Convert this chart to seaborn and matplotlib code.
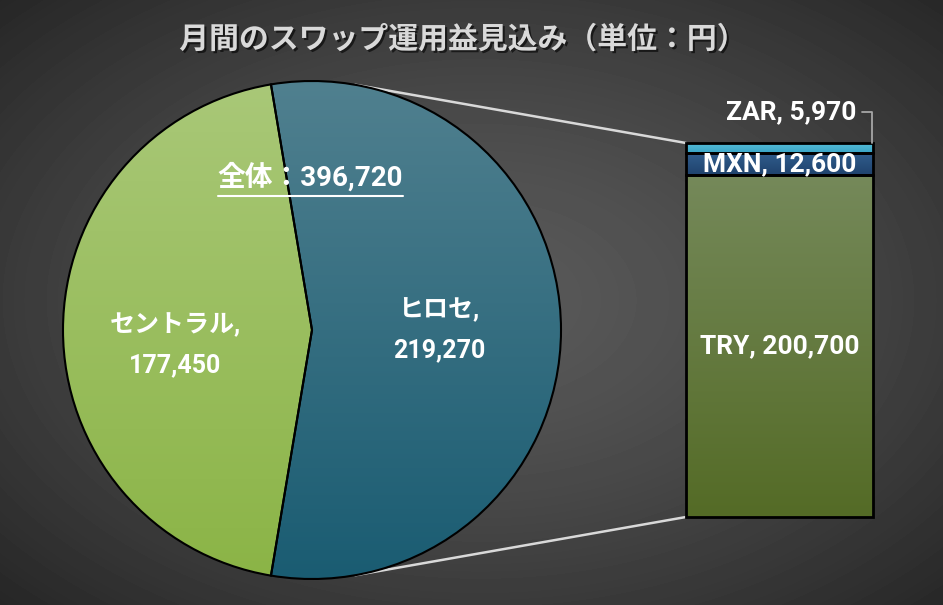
import numpy as np
import matplotlib.pyplot as plt
import matplotlib.patheffects as pe
import seaborn as sns
from matplotlib.colors import LinearSegmentedColormap
from matplotlib.patches import ConnectionPatch

title = '月間のスワップ運用益見込み（単位：円）'
total_label = '全体'
pie_labels = ['ヒロセ', 'セントラル']
pie_values = [219270, 177450]
bar_labels = ['TRY', 'MXN', 'ZAR']
bar_values = [200700, 12600, 5970]

sns.set_theme(style='white')
plt.rcParams['font.family'] = ['Roboto', 'Noto Sans CJK JP', 'DejaVu Sans']
plt.rcParams['font.weight'] = 'bold'

W, H = 943, 605
fig = plt.figure(figsize=(W / 100, H / 100), dpi=100)

# dark radial background
bg = fig.add_axes([0, 0, 1, 1], zorder=0)
yy, xx = np.mgrid[0:H, 0:W]
r = np.hypot((xx - 480) / W, (yy - 300) / H)
r = r / r.max()
bg.imshow(0.35 - 0.2 * r ** 1.4, cmap='gray', vmin=0, vmax=1,
          extent=(0, 1, 0, 1), aspect='auto')
bg.set_axis_off()

def gradient(ax, patch, top, bottom, extent):
    cmap = LinearSegmentedColormap.from_list('g', [bottom, top])
    im = ax.imshow(np.linspace(0, 1, 256).reshape(-1, 1), cmap=cmap, origin='lower',
                   extent=extent, aspect='auto', zorder=1)
    im.set_clip_path(patch)
    patch.set_facecolor('none')
    patch.set_zorder(2)
    patch.set_clip_on(False)

# pie
cx, cy, R = 312, 330, 249
pax = fig.add_axes([(cx - R) / W, 1 - (cy + R) / H, 2 * R / W, 2 * R / H], zorder=1)
frac = pie_values[0] / sum(pie_values)
wedges, _ = pax.pie(pie_values, startangle=-frac * 180, counterclock=True,
                    wedgeprops=dict(edgecolor='black', linewidth=1.5))
pie_grads = [('#50808f', '#1a5c72'), ('#a9c878', '#8bb446')]
for w, (top, bot) in zip(wedges, pie_grads):
    gradient(pax, w, top, bot, (-1, 1, -1, 1))
pax.set_xlim(-1, 1)
pax.set_ylim(-1, 1)
pax.set_aspect('equal')
pax.set_axis_off()

pie_pos = [(0.51, 0.0), (-0.55, -0.06)]
for lab, v, (x, y) in zip(pie_labels, pie_values, pie_pos):
    pax.text(x, y, f'{lab},\n{v:,}', ha='center', va='center', fontsize=18,
             color='white', fontweight='bold', linespacing=1.85, zorder=5)

tot = pax.text(-0.006, 0.614, f'{total_label}：{sum(pie_values):,}', ha='center',
               va='center', fontsize=20, color='white', fontweight='bold', zorder=5)

# bar of pie
bx0, bx1, by0, by1 = 686, 873, 143, 517
bax = fig.add_axes([bx0 / W, 1 - by1 / H, (bx1 - bx0) / W, (by1 - by0) / H], zorder=1)
bottoms = np.concatenate([[0], np.cumsum(bar_values)[:-1]])
bar_grads = [('#75895a', '#546b26'), ('#305d8c', '#1f426d'), ('#56bcd8', '#3aa6c6')]
for lab, v, b, (top, bot) in zip(bar_labels, bar_values, bottoms, bar_grads):
    sns.barplot(x=['s'], y=[v], bottom=b, width=1, color=bot, saturation=1,
                edgecolor='black', linewidth=2, errorbar=None, ax=bax)
    patch = bax.patches[-1]
    gradient(bax, patch, top, bot, (-0.5, 0.5, b, b + v))
bax.set_xlim(-0.5, 0.5)
bax.set_ylim(0, sum(bar_values))
bax.set_axis_off()

for lab, v, b in zip(bar_labels[:2], bar_values[:2], bottoms[:2]):
    bax.text(0, b + v / 2, f'{lab}, {v:,}', ha='center', va='center', fontsize=19,
             color='white', fontweight='bold', zorder=5)
bax.text(0.909, 1.083, f'{bar_labels[2]}, {bar_values[2]:,}', transform=bax.transAxes,
         ha='right', va='center', fontsize=19, color='white', fontweight='bold')
bax.plot([0.94, 0.995, 0.995], [1.083, 1.083, 1.0], transform=bax.transAxes,
         color='#a6a6a6', lw=1.3, clip_on=False)

fig.text(0.491, 1 - 40 / H, title, ha='center', va='center', fontsize=21.5,
         color='#d9d9d9', fontweight='bold',
         path_effects=[pe.withSimplePatchShadow(offset=(1.5, -1.5), shadow_rgbFace='black', alpha=0.6)])

fig.canvas.draw()

# connector lines tangent to the pie
for corner_y in (sum(bar_values), 0):
    px, py = pax.transData.inverted().transform(bax.transData.transform((-0.5, corner_y)))
    d = np.hypot(px, py)
    ang = np.arctan2(py, px) + np.sign(py) * np.arccos(1 / d)
    con = ConnectionPatch(xyA=(np.cos(ang), np.sin(ang)), coordsA=pax.transData,
                          xyB=(-0.5, corner_y), coordsB=bax.transData,
                          color='#d9d9d9', lw=1.8, zorder=0.5)
    fig.add_artist(con)

# underline the total
bb = tot.get_window_extent().transformed(pax.transData.inverted())
pax.plot([bb.x0, bb.x1], [bb.y0 - 0.015, bb.y0 - 0.015], color='white', lw=1.5,
         clip_on=False, zorder=5)

fig.savefig('out.png', dpi=100)
